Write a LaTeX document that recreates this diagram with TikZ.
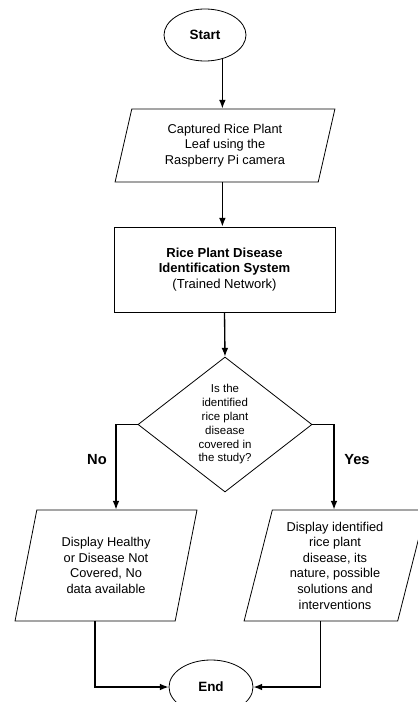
\documentclass[tikz,border=0pt]{standalone}
\usepackage{fontspec}
\setmainfont{Liberation Sans}
\usepackage{tikz}
\usetikzlibrary{calc}
\usetikzlibrary{shapes.geometric, arrows.meta, positioning}

\begin{document}
\begin{tikzpicture}[x=0.75pt,y=-0.75pt,line width=0.6pt,
                    >={Latex[length=6.5pt,width=5pt]},
                    term node/.style={ellipse,draw,font=\fontsize{10.1}{12}\selectfont\bfseries,inner sep=0pt},
                    io node/.style={trapezium,trapezium left angle=76,trapezium right angle=104,trapezium stretches=true,draw,align=center,inner sep=0pt,font=\fontsize{9.6}{11.7}\selectfont},
                    proc node/.style={rectangle,draw,align=center,inner sep=0pt,minimum width=165.75pt,minimum height=63.75pt,font=\fontsize{9.8}{11.6}\selectfont},
                    decision node/.style={diamond,draw,aspect=1.3,align=center,inner sep=0pt,minimum width=130.5pt,minimum height=101.25pt,font=\fontsize{8.6}{10.35}\selectfont},
                    branch label/.style={font=\fontsize{11}{13}\selectfont\bfseries},
                    flow line/.style={->,line width=1pt}]

\useasboundingbox (0,0) rectangle (417,702);

\node[term node, minimum width=61.5pt, minimum height=39pt] (Start) at (205,35) {Start};
\node[io node, minimum width=165pt, minimum height=54.75pt] (Capture) at (225,145.5) {Captured Rice Plant\\Leaf using the\\Raspberry Pi camera};
\node[proc node] (System) at (224.5,269.5) {\textbf{Rice Plant Disease}\\\textbf{Identification System}\\(Trained Network)};
\node[decision node] (Covered) at (225,424.5) {Is the\\identified\\rice plant\\disease\\covered in\\the study?};

\node[io node, minimum width=136.5pt, minimum height=83.25pt] (NoData) at (106,565.5) {Display Healthy\\or Disease Not\\Covered, No\\data available};
\node[io node, minimum width=136.5pt, minimum height=83.25pt] (ShowDisease) at (335,565.5) {Display identified\\rice plant\\disease, its\\nature, possible\\solutions and\\interventions};

\node[term node, minimum width=63pt, minimum height=40.5pt] (End) at (211,687) {End};

\node[branch label] (NoLabel) at (97,460) {No};
\node[branch label] (YesLabel) at (357,460) {Yes};

\coordinate (NoBend) at (116,424.5);
\coordinate (YesBend) at (334,424.5);

\draw[flow line] (Start.-54) -- (Start.-54 |- Capture.north);
\draw[flow line] (Capture.south -| Start.-54) -- (Start.-54 |- System.north);
\draw[flow line] (System.south) -- (Covered.north);
\draw[flow line] (Covered.west) -- (NoBend) -- (NoBend |- NoData.north);
\draw[flow line] (Covered.east) -- (YesBend) -- (YesBend |- ShowDisease.north);
\draw[flow line] ($(NoData.bottom left corner)!0.5!(NoData.bottom right corner)$) |- (End.west);
\draw[flow line] ($(ShowDisease.bottom left corner)!0.5!(ShowDisease.bottom right corner)$) |- (End.east);

\end{tikzpicture}
\end{document}
